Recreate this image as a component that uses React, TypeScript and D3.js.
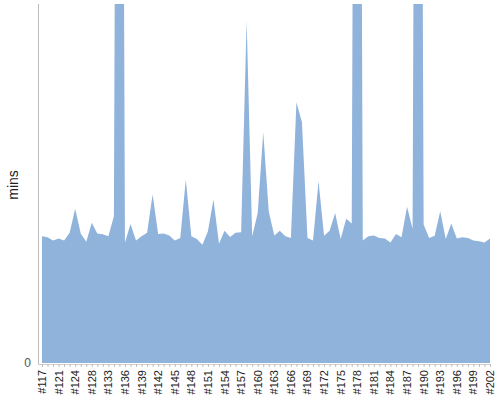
import React from 'react';
import * as d3 from 'd3';

// build numbers on the x axis
const BUILDS: number[] = [
  117, 119, 120, 121, 122, 123, 124, 125, 127, 128, 130, 131, 133, 134, 135,
  136, 137, 138, 139, 140, 141, 142, 143, 144, 145, 146, 147, 148, 149, 150,
  151, 152, 153, 154, 155, 156, 157, 158, 159, 160, 161, 162, 163, 164, 165,
  166, 167, 168, 169, 170, 171, 172, 173, 174, 175, 176, 177, 178, 179, 180,
  181, 182, 183, 184, 185, 186, 187, 188, 189, 190, 191, 192, 193, 194, 195,
  196, 197, 198, 199, 200, 201, 202,
];

// build duration in minutes
const DURATIONS: number[] = [
  7.06, 7.0, 6.82, 6.93, 6.83, 7.26, 8.59, 7.21, 6.76, 7.82, 7.21, 7.17, 7.06, 8.17, 90,
  6.72, 7.75, 6.82, 7.06, 7.25, 9.39, 7.19, 7.21, 7.11, 6.83, 6.97, 10.22, 7.06, 6.91, 6.59,
  7.34, 9.11, 6.65, 7.37, 7.02, 7.25, 7.28, 19.05, 7.06, 8.36, 12.85, 8.44, 7.11, 7.37, 7.06,
  6.97, 14.53, 13.41, 6.97, 6.83, 10.13, 7.09, 7.37, 8.36, 6.91, 8.03, 7.77, 90, 6.83, 7.06,
  7.11, 6.97, 6.93, 6.72, 7.19, 7.0, 8.7, 7.47, 90, 7.71, 6.97, 7.09, 8.45, 6.91, 7.77,
  6.93, 7.0, 6.97, 6.83, 6.78, 6.72, 6.93,
];

const Y_TICKS: number[] = [0];
const Y_MAX = 20;
const LABEL_EVERY = 3;

const WIDTH = 500;
const HEIGHT = 400;
const left = 42;
const right = 490;
const top = 4;
const bottom = 363;

export default function App() {
  const labels = BUILDS.map((b) => `#${b}`);
  const data = labels.map((label, i) => ({ label, value: DURATIONS[i] }));

  const x = d3.scalePoint<string>().domain(labels).range([left, right]);
  const y = d3.scaleLinear().domain([0, Y_MAX]).range([bottom, top]);

  const area = d3
    .area<{ label: string; value: number }>()
    .x((d) => x(d.label) ?? 0)
    .y0(y(0))
    .y1((d) => y(d.value));

  return (
    <svg
      width={WIDTH}
      height={HEIGHT}
      style={{ position: 'absolute', left: 0, top: 0, background: '#fff' }}
      fontFamily="Arial, 'Liberation Sans', sans-serif"
    >
      <defs>
        <clipPath id="plot">
          <rect x={left - 4} y={top} width={right - left + 8} height={bottom - top} />
        </clipPath>
      </defs>

      <path d={area(data) ?? ''} fill="#90b3db" clipPath="url(#plot)" />

      {/* y axis */}
      <line x1={38.5} x2={38.5} y1={top} y2={bottom + 1} stroke="#bdbdbd" strokeWidth={1} />
      {Y_TICKS.map((t) => (
        <text key={t} x={31} y={y(t)} dy="0.35em" textAnchor="end" fontSize={12} fill="#555">
          {t}
        </text>
      ))}
      <text
        transform={`translate(18, 185) rotate(-90)`}
        textAnchor="middle"
        fontSize={14}
        fill="#222"
      >
        mins
      </text>

      {/* x axis */}
      <line x1={38} x2={right + 1} y1={bottom + 1.5} y2={bottom + 1.5} stroke="#d0d0d0" />
      {labels.map((l) => (
        <line
          key={`t${l}`}
          x1={(x(l) ?? 0) + 0.5}
          x2={(x(l) ?? 0) + 0.5}
          y1={bottom + 1}
          y2={bottom + 4}
          stroke="#bdbdbd"
        />
      ))}
      {labels
        .filter((_, i) => i % LABEL_EVERY === 0)
        .map((l) => (
          <text
            key={l}
            transform={`translate(${(x(l) ?? 0) + 4}, 370) rotate(-90)`}
            textAnchor="end"
            fontSize={11}
            fill="#222"
          >
            {l}
          </text>
        ))}
    </svg>
  );
}
